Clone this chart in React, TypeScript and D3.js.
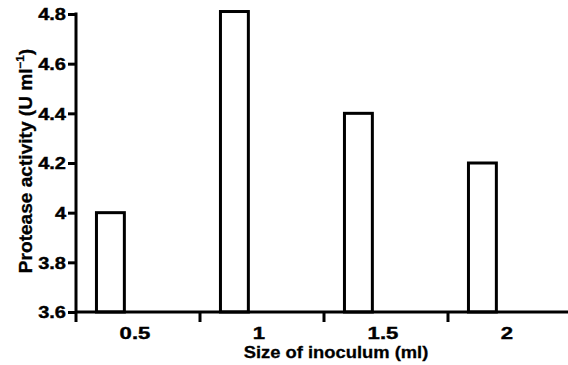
import { useEffect, useRef } from "react"
import * as d3 from "d3"

const inoculumSizes = ["0.5", "1", "1.5", "2"]
const proteaseActivity = [4.0, 4.81, 4.4, 4.2]
const yTicks = [3.6, 3.8, 4.0, 4.2, 4.4, 4.6, 4.8]

const FONT = "'Liberation Sans', Arial, Helvetica, sans-serif"

// stretch text horizontally, the original uses a wide heavy face
function stretch(sel: d3.Selection<any, any, any, any>, factor: number) {
  sel.each(function () {
    const node = this as SVGTextElement
    const len = node.getComputedTextLength()
    d3.select(node).attr("textLength", len * factor).attr("lengthAdjust", "spacingAndGlyphs")
  })
}

export default function App() {
  const svgRef = useRef<SVGSVGElement>(null)

  useEffect(() => {
    if (!svgRef.current) return
    const root = d3.select(svgRef.current)
    root.selectAll("*").remove()

    const width = 568
    const height = 365
    const margin = { top: 14, right: -4, bottom: 53, left: 76 }
    const innerW = width - margin.left - margin.right
    const innerH = height - margin.top - margin.bottom

    const svg = root.append("g").attr("transform", `translate(${margin.left},${margin.top})`)

    const x = d3.scaleBand().domain(inoculumSizes).range([0, innerW]).padding(0)
    const y = d3.scaleLinear().domain([3.6, 4.8]).range([innerH, 0])

    // Bars
    svg
      .selectAll(".bar")
      .data(inoculumSizes)
      .enter()
      .append("rect")
      .attr("class", "bar")
      .attr("x", (d) => (x(d) || 0) + x.bandwidth() * 0.165)
      .attr("y", (d, i) => y(proteaseActivity[i]))
      .attr("width", x.bandwidth() * 0.225)
      .attr("height", (d, i) => innerH - y(proteaseActivity[i]))
      .attr("fill", "white")
      .attr("stroke", "black")
      .attr("stroke-width", 3)

    // Y axis
    const yAxis = d3
      .axisLeft(y)
      .tickValues(yTicks)
      .tickSize(8)
      .tickSizeOuter(0)
      .tickPadding(2)
      .tickFormat((d) => String(+(+d).toFixed(1)))

    const yg = svg.append("g").call(yAxis)
    yg.select(".domain").remove()
    yg.selectAll("line").attr("stroke", "black").attr("stroke-width", 3)
    const yText = yg
      .selectAll<SVGTextElement, number>("text")
      .attr("fill", "black")
      .attr("stroke", "black")
      .attr("stroke-width", 0.4)
      .attr("dy", "0.36em")
      .style("font-family", FONT)
      .style("font-weight", "bold")
      .style("font-size", "16px")
    stretch(yText, 1.25)

    svg
      .append("line")
      .attr("x1", 0)
      .attr("x2", 0)
      .attr("y1", -1.5)
      .attr("y2", innerH + 10)
      .attr("stroke", "black")
      .attr("stroke-width", 3)

    // X axis
    const xg = svg.append("g").attr("transform", `translate(0,${innerH})`)
    xg.append("line")
      .attr("x1", 0)
      .attr("x2", innerW)
      .attr("stroke", "black")
      .attr("stroke-width", 3)

    xg.selectAll(".tick")
      .data(inoculumSizes.slice(1))
      .enter()
      .append("line")
      .attr("x1", (d) => x(d) || 0)
      .attr("x2", (d) => x(d) || 0)
      .attr("y1", 0)
      .attr("y2", 10)
      .attr("stroke", "black")
      .attr("stroke-width", 3)

    const xText = xg
      .selectAll(".label")
      .data(inoculumSizes)
      .enter()
      .append("text")
      .attr("x", (d) => (x(d) || 0) + x.bandwidth() / 2 - 3)
      .attr("y", 27)
      .attr("text-anchor", "middle")
      .attr("fill", "black")
      .attr("stroke", "black")
      .attr("stroke-width", 0.4)
      .style("font-family", FONT)
      .style("font-weight", "bold")
      .style("font-size", "17px")
      .text((d) => d)
    stretch(xText, 1.3)

    // Axis labels
    const xLabel = svg
      .append("text")
      .attr("x", 260)
      .attr("y", innerH + 46)
      .attr("text-anchor", "middle")
      .attr("fill", "black")
      .attr("stroke", "black")
      .attr("stroke-width", 0.3)
      .style("font-family", FONT)
      .style("font-weight", "bold")
      .style("font-size", "17px")
      .text("Size of inoculum (ml)")
    stretch(xLabel, 1.08)

    const yLabel = svg
      .append("text")
      .attr("transform", "rotate(-90)")
      .attr("x", -147)
      .attr("y", -44)
      .attr("text-anchor", "middle")
      .attr("fill", "black")
      .attr("stroke", "black")
      .attr("stroke-width", 0.3)
      .style("font-family", FONT)
      .style("font-weight", "bold")
      .style("font-size", "18px")
    yLabel.append("tspan").text("Protease activity (U ml")
    yLabel.append("tspan").attr("dy", -8).style("font-size", "11px").text("−1")
    yLabel.append("tspan").attr("dy", 8).text(")")
    stretch(yLabel, 1.06)
  }, [])

  return (
    <svg
      ref={svgRef}
      width={568}
      height={365}
      style={{ position: "absolute", left: 0, top: 0, background: "white" }}
    ></svg>
  )
}
